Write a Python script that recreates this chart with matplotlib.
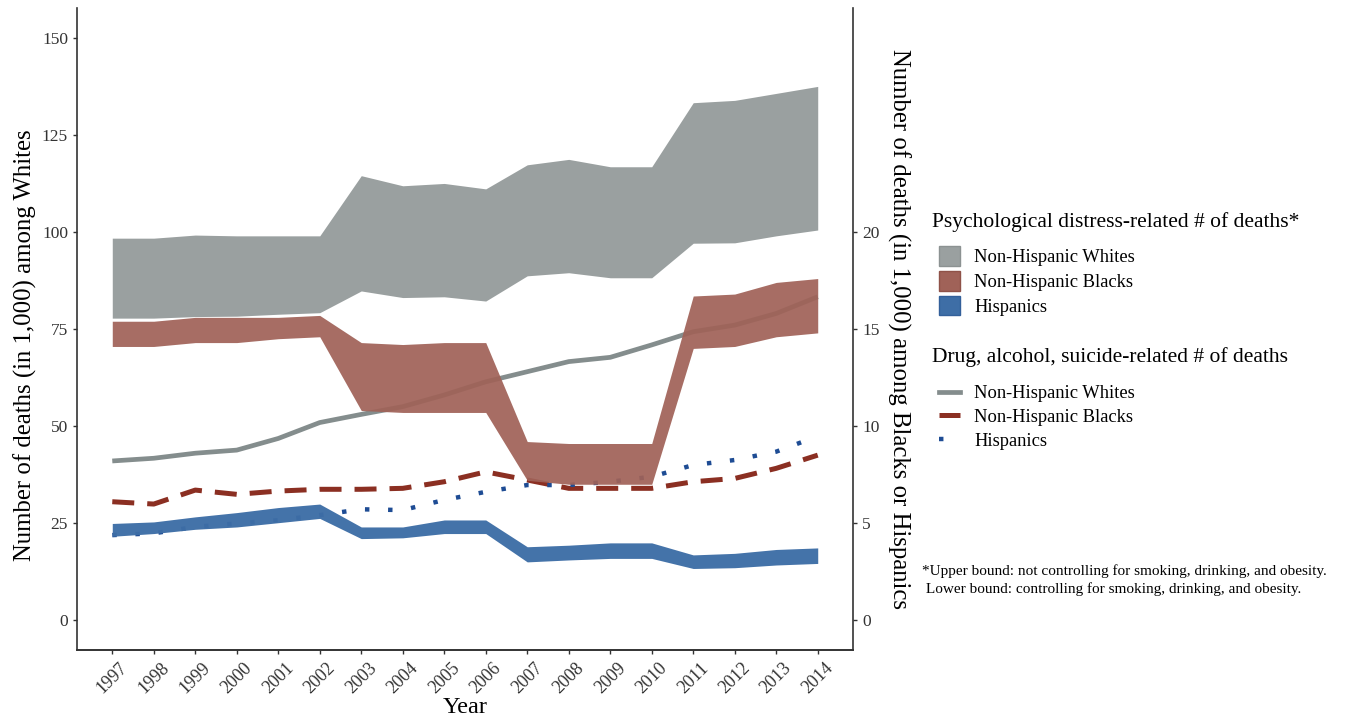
import matplotlib
matplotlib.use("Agg")
import matplotlib.pyplot as plt
from matplotlib.patches import Patch
from matplotlib.lines import Line2D

plt.rcParams['font.family'] = ['Liberation Serif', 'DejaVu Serif']

years = list(range(1997, 2015))

# psychological distress-related deaths, bands (Whites on left axis, others on right axis)
white_hi = [98.4, 98.4, 99.2, 99.0, 99.0, 99.0, 114.5, 111.9, 112.5, 111.1,
            117.3, 118.7, 116.8, 116.8, 133.3, 133.9, 135.7, 137.5]
white_lo = [77.8, 77.8, 78.2, 78.3, 78.8, 79.2, 84.8, 83.1, 83.3, 82.2,
            88.7, 89.5, 88.2, 88.2, 97.1, 97.2, 99.0, 100.5]
black_hi = [15.4, 15.4, 15.6, 15.6, 15.6, 15.7, 14.3, 14.2, 14.3, 14.3,
            9.2, 9.1, 9.1, 9.1, 16.7, 16.8, 17.4, 17.6]
black_lo = [14.1, 14.1, 14.3, 14.3, 14.5, 14.6, 10.8, 10.7, 10.7, 10.7,
            7.2, 7.0, 7.0, 7.0, 14.0, 14.1, 14.6, 14.8]
hisp_hi = [4.98, 5.06, 5.32, 5.54, 5.80, 5.98, 4.80, 4.80, 5.16, 5.16,
           3.78, 3.86, 3.98, 3.98, 3.36, 3.44, 3.64, 3.72]
hisp_lo = [4.32, 4.46, 4.68, 4.80, 5.02, 5.24, 4.20, 4.24, 4.46, 4.46,
           3.00, 3.10, 3.18, 3.18, 2.66, 2.70, 2.84, 2.92]

# drug, alcohol, suicide-related deaths
white_line = [41.0, 41.7, 43.0, 43.8, 46.8, 50.9, 53.0, 55.0, 58.0, 61.4,
              64.0, 66.6, 67.7, 70.9, 74.3, 76.0, 79.0, 83.3]
black_line = [6.10, 5.98, 6.70, 6.48, 6.65, 6.74, 6.74, 6.79, 7.13, 7.64,
              7.22, 6.79, 6.79, 6.79, 7.13, 7.30, 7.82, 8.50]
hisp_line = [4.38, 4.47, 4.81, 4.98, 5.15, 5.41, 5.71, 5.67, 6.19, 6.61,
             6.96, 6.96, 7.13, 7.39, 7.99, 8.25, 8.68, 9.48]

c_grey = '#9aa0a0'
c_red = '#a06258'
c_blue = '#3e6ea6'
l_grey = '#848d8d'
l_red = '#8b2f22'
l_blue = '#1e4c94'

fig = plt.figure(figsize=(13.55, 7.2), dpi=100)
ax = fig.add_axes([77/1355, 70/720, (853-77)/1355, (650-8)/720])
ax2 = ax.twinx()

ax.plot(years, white_line, color=l_grey, lw=3.4, solid_capstyle='butt', zorder=1)
ax.fill_between(years, white_lo, white_hi, color=c_grey, lw=0, zorder=2)

ax2.plot(years, black_line, color=l_red, lw=3.6, dashes=(4.4, 2.6), zorder=1)
ax2.plot(years, hisp_line, color=l_blue, lw=3.2, linestyle=(0, (1, 4.2)), zorder=1)
ax2.fill_between(years, black_lo, black_hi, color=c_red, alpha=0.93, lw=0, zorder=2)
ax2.fill_between(years, hisp_lo, hisp_hi, color=c_blue, alpha=0.97, lw=0, zorder=2)

ylo, yhi = -7.7, 157.7
ax.set_ylim(ylo, yhi)
ax2.set_ylim(ylo / 5, yhi / 5)
ax.set_xlim(1996.15, 2014.85)
ax.set_yticks([0, 25, 50, 75, 100, 125, 150])
ax2.set_yticks([0, 5, 10, 15, 20])
ax.set_xticks(years)
ax.set_xticklabels([str(y) for y in years], rotation=45, ha='center')

for a in (ax, ax2):
    a.spines['top'].set_visible(False)
    for s in a.spines.values():
        s.set_linewidth(1.2)
        s.set_color('#333333')
    a.tick_params(labelsize=12.5, colors='#333333', labelcolor='#333333',
                  length=3, width=1)
ax.tick_params(axis='x', labelsize=13, pad=4)
ax.spines['right'].set_visible(False)
ax2.spines['left'].set_visible(False)
ax.set_facecolor('none')

ax.set_xlabel('Year', fontsize=17.5, labelpad=0)
ax.set_ylabel('Number of deaths (in 1,000) among Whites', fontsize=17.8)
ax.yaxis.set_label_coords(-0.052, 0.475)
ax2.set_ylabel('Number of deaths (in 1,000) among Blacks or Hispanics', fontsize=17.8,
               rotation=270, labelpad=22)

# legend titles
fig.text(932/1355, 1 - 222/720, 'Psychological distress-related # of deaths*',
         fontsize=15.5, va='center', ha='left')
fig.text(932/1355, 1 - 357/720, 'Drug, alcohol, suicide-related # of deaths',
         fontsize=15.5, va='center', ha='left')

h1 = [Patch(facecolor=c_grey, edgecolor='#8c9292', label='Non-Hispanic Whites'),
      Patch(facecolor=c_red, edgecolor='#8f5248', label='Non-Hispanic Blacks'),
      Patch(facecolor=c_blue, edgecolor='#33609a', label='Hispanics')]
fig.legend(handles=h1, loc='upper left',
           bbox_to_anchor=(930/1355, 1 - 237/720),
           frameon=False, fontsize=13.3,
           handlelength=1.15, handleheight=1.25,
           handletextpad=0.75, labelspacing=0.26, borderpad=0)

h2 = [Line2D([], [], color=l_grey, lw=3.4, label='Non-Hispanic Whites'),
      Line2D([], [], color=l_red, lw=3.6, dashes=(4.4, 2.6), label='Non-Hispanic Blacks'),
      Line2D([], [], color=l_blue, lw=3.2, linestyle=(0, (1, 4.2)), label='Hispanics')]
fig.legend(handles=h2, loc='upper left',
           bbox_to_anchor=(930/1355, 1 - 376/720),
           frameon=False, fontsize=13.3,
           handlelength=1.15, handletextpad=0.75,
           labelspacing=0.36, borderpad=0)

fig.text(922/1355, 1 - 580/720,
         '*Upper bound: not controlling for smoking, drinking, and obesity.\n'
         ' Lower bound: controlling for smoking, drinking, and obesity.',
         fontsize=11, va='center', ha='left', linespacing=1.35)

fig.savefig('out.png', dpi=100)
